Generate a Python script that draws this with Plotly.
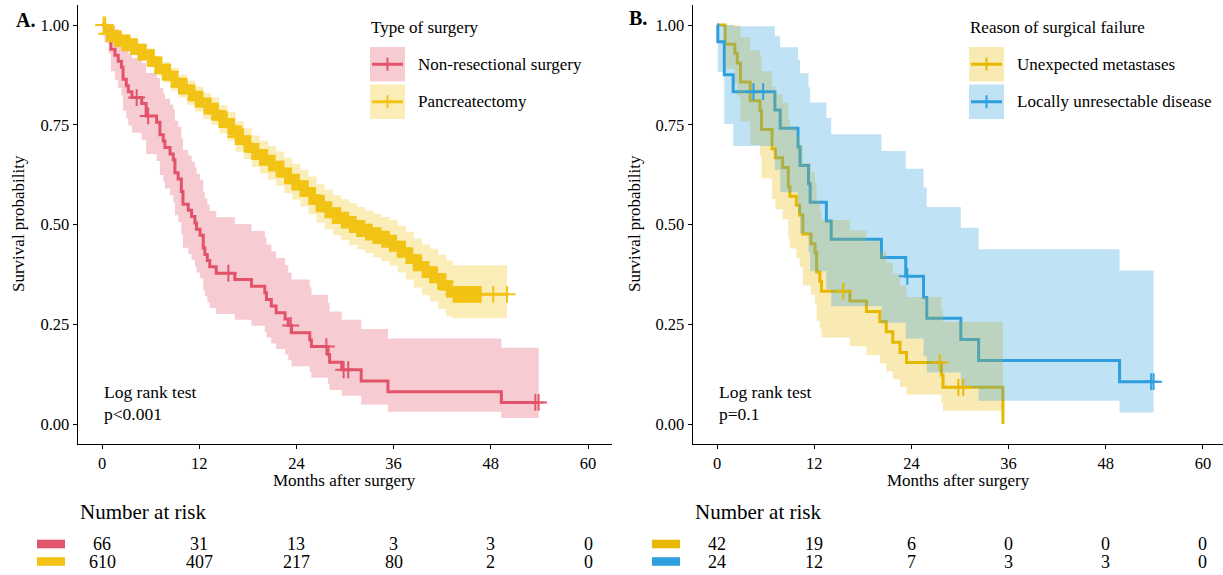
import bisect
import plotly.graph_objects as go

# ---------------- data: Panel A (type of surgery) ----------------
red_t = [0, 0.3, 0.8, 1.1, 1.6, 2.0, 2.4, 2.6, 3.0, 3.25, 3.7, 4.9, 5.45, 6.74, 7.15, 7.56, 7.77, 8.4, 8.8, 9.0,
         9.4, 9.8, 10.0, 10.65, 11.06, 11.47, 11.67, 12.1, 12.5, 12.7, 13.0, 13.3, 14.1, 16.4, 18.45, 20.1, 20.3,
         20.9, 21.5, 22.6, 23.0, 23.4, 25.65, 25.85, 27.9, 28.1, 29.6, 32.0, 35.3, 49.3]
red_s = [1.0, 0.985, 0.970, 0.939, 0.924, 0.909, 0.894, 0.864, 0.848, 0.833, 0.818, 0.803, 0.772, 0.756, 0.725,
         0.709, 0.693, 0.677, 0.662, 0.630, 0.614, 0.583, 0.551, 0.536, 0.520, 0.504, 0.488, 0.473, 0.441, 0.425,
         0.410, 0.394, 0.378, 0.362, 0.345, 0.329, 0.312, 0.296, 0.279, 0.263, 0.247, 0.229, 0.211, 0.194, 0.174,
         0.155, 0.136, 0.108, 0.081, 0.054]
red_lo = [1.0, 0.956, 0.929, 0.884, 0.863, 0.842, 0.823, 0.785, 0.766, 0.748, 0.730, 0.712, 0.677, 0.659, 0.624,
          0.607, 0.590, 0.573, 0.556, 0.523, 0.506, 0.474, 0.442, 0.426, 0.411, 0.395, 0.380, 0.365, 0.335, 0.320,
          0.305, 0.291, 0.276, 0.261, 0.246, 0.231, 0.217, 0.202, 0.188, 0.174, 0.160, 0.145, 0.130, 0.116, 0.100,
          0.085, 0.071, 0.049, 0.031, 0.015]
red_hi = [1.0, 1.0, 1.0, 0.999, 0.990, 0.981, 0.971, 0.951, 0.940, 0.928, 0.917, 0.905, 0.880, 0.868, 0.842,
          0.828, 0.815, 0.801, 0.788, 0.760, 0.745, 0.717, 0.687, 0.673, 0.658, 0.643, 0.627, 0.612, 0.581, 0.566,
          0.550, 0.534, 0.518, 0.501, 0.484, 0.468, 0.450, 0.433, 0.416, 0.398, 0.380, 0.362, 0.343, 0.324, 0.303,
          0.282, 0.261, 0.238, 0.214, 0.191]
red_cens = [4.28, 5.7, 15.6, 23.3, 27.7, 29.83, 30.4, 53.5, 53.9]
red_end = 53.9

pc_t = [0, 0.5, 1.5, 2.5, 3.5, 4.5, 5.5, 6.5, 7.5, 8.5, 9.5, 10.5, 11.5, 12.5, 13.5, 14.5, 15.5, 16.5, 17.5,
        18.5, 19.5, 20.5, 21.5, 22.5, 23.5, 24.5, 25.5, 26.5, 27.5, 28.5, 29.5, 30.5, 31.5, 32.5, 33.5, 34.5,
        35.5, 36.5, 37.5, 38.5, 39.5, 40.5, 41.5, 42.5, 43.3]
pc_s = [1.0, 0.978, 0.966, 0.955, 0.946, 0.932, 0.918, 0.898, 0.882, 0.864, 0.847, 0.830, 0.814, 0.797, 0.784,
        0.763, 0.745, 0.720, 0.702, 0.683, 0.668, 0.654, 0.639, 0.622, 0.606, 0.590, 0.572, 0.552, 0.537, 0.522,
        0.511, 0.500, 0.490, 0.481, 0.472, 0.463, 0.453, 0.438, 0.422, 0.404, 0.387, 0.374, 0.357, 0.338, 0.325]
pc_lo = [1.0, 0.966, 0.951, 0.938, 0.927, 0.911, 0.895, 0.873, 0.856, 0.836, 0.818, 0.800, 0.783, 0.764, 0.750,
         0.728, 0.709, 0.683, 0.664, 0.644, 0.628, 0.613, 0.597, 0.579, 0.562, 0.545, 0.526, 0.505, 0.489, 0.473,
         0.461, 0.449, 0.438, 0.428, 0.418, 0.408, 0.397, 0.380, 0.362, 0.342, 0.323, 0.307, 0.288, 0.270, 0.265]
pc_hi = [1.0, 0.990, 0.981, 0.972, 0.965, 0.953, 0.941, 0.923, 0.908, 0.892, 0.876, 0.861, 0.846, 0.830, 0.818,
         0.799, 0.782, 0.758, 0.741, 0.723, 0.710, 0.697, 0.683, 0.667, 0.652, 0.637, 0.620, 0.601, 0.587, 0.573,
         0.563, 0.553, 0.544, 0.535, 0.527, 0.519, 0.511, 0.497, 0.482, 0.465, 0.450, 0.439, 0.424, 0.410, 0.398]
pc_cens = [0.2, 0.6, 1.1, 1.4, 1.8, 2.1, 2.5, 2.9, 3.2, 3.6, 4.0, 4.3, 4.7, 5.1, 5.4, 5.9, 6.2, 6.6, 6.9, 7.3,
           7.7, 8.0, 8.4, 8.8, 9.1, 9.5, 9.9, 10.2, 10.7, 11.0, 11.4, 11.7, 12.1, 12.4, 12.9, 13.2, 13.6, 13.9,
           14.3, 14.7, 15.0, 15.4, 15.8, 16.1, 16.5, 16.9, 17.2, 17.6, 18.0, 18.3, 18.8, 19.1, 19.5, 19.8, 20.2,
           20.6, 20.9, 21.3, 21.8, 22.1, 22.4, 22.8, 23.2, 23.5, 23.9, 24.3, 24.7, 25.0, 25.4, 25.8, 26.1, 26.5,
           26.9, 27.2, 27.6, 28.0, 28.3, 28.7, 29.1, 29.4, 29.8, 30.2, 30.6, 30.9, 31.3, 31.7, 32.0, 32.4, 32.8,
           33.1, 33.5, 33.9, 34.2, 34.6, 35.0, 35.4, 35.7, 36.1, 36.5, 36.8, 37.2, 37.6, 37.9, 38.3, 38.7, 39.0,
           39.4, 39.8, 40.1, 40.5, 40.8, 41.2, 41.5, 41.9, 42.2, 42.6, 42.9, 43.2, 43.6, 43.9, 44.2, 44.5, 44.8,
           45.1, 45.4, 45.7, 46.0, 46.3, 46.6, 48.3, 50.0,
           0.4, 0.9, 1.25, 1.6, 1.95, 2.3, 2.7, 3.05, 3.4, 3.8, 4.15, 4.5, 4.9, 5.25, 5.65, 6.05, 6.4, 6.75, 7.1,
           7.5, 7.85, 8.2, 8.6, 8.95, 9.3, 9.7, 10.05, 10.45, 10.85, 11.2, 11.55, 11.9, 12.25, 12.65, 13.05, 13.4,
           13.75, 14.1, 14.5, 14.85, 15.2, 15.6, 15.95, 16.3, 16.7, 17.05, 17.4, 17.8, 18.15, 18.55, 18.95, 19.3,
           19.65, 20.0, 20.4, 20.75, 21.1, 21.55, 21.95, 22.25, 22.6, 23.0, 23.35, 23.7, 24.1, 24.5, 24.85, 25.2,
           25.6, 25.95, 26.3, 26.7, 27.05, 27.4, 27.8, 28.15, 28.5, 28.9, 29.25, 29.6, 30.0, 30.4, 30.75, 31.1,
           31.5, 31.85, 32.2, 32.6, 32.95, 33.3, 33.7, 34.05, 34.4, 34.8, 35.2, 35.55, 35.9, 36.3, 36.65, 37.0,
           37.4, 37.75, 38.1, 38.5, 38.85, 39.2, 39.6, 39.95, 40.3, 40.65, 41.0, 41.35, 41.7, 42.05, 42.4, 42.75,
           43.05, 43.4, 43.75, 44.05, 44.35, 44.65, 44.95, 45.25, 45.55, 45.85, 46.15, 46.45, 46.75]
pc_end = 50.2
pc_band_end = 50.0

# ---------------- data: Panel B (reason of surgical failure) ----------------
um_t = [0, 1.0, 2.2, 2.5, 2.9, 4.1, 5.3, 5.5, 6.8, 7.2, 8.1, 8.8, 9.0, 9.8, 10.2, 10.6, 11.6, 12.1, 12.3, 12.7,
        12.9, 16.4, 18.45, 20.1, 20.9, 21.7, 22.6, 23.4, 27.7, 27.9, 35.3]
um_s = [1.0, 0.952, 0.929, 0.905, 0.857, 0.810, 0.786, 0.738, 0.690, 0.667, 0.643, 0.595, 0.571, 0.548, 0.524,
        0.476, 0.452, 0.429, 0.381, 0.357, 0.333, 0.308, 0.282, 0.256, 0.231, 0.205, 0.179, 0.154, 0.123, 0.092, 0.0]
um_lo = [1.0, 0.890, 0.854, 0.820, 0.758, 0.699, 0.671, 0.616, 0.564, 0.538, 0.513, 0.464, 0.440, 0.416, 0.393,
         0.347, 0.324, 0.302, 0.259, 0.238, 0.217, 0.195, 0.173, 0.152, 0.132, 0.112, 0.093, 0.074, 0.053, 0.033]
um_hi = [1.0, 1.0, 1.0, 0.998, 0.970, 0.937, 0.920, 0.884, 0.845, 0.826, 0.805, 0.764, 0.743, 0.721, 0.699,
         0.654, 0.631, 0.608, 0.560, 0.536, 0.511, 0.485, 0.459, 0.432, 0.404, 0.376, 0.347, 0.318, 0.288, 0.256]
um_cens = [15.6, 27.5, 29.8, 30.4]
um_end = 35.3

lu_t = [0, 0.1, 0.9, 2.0, 7.15, 7.8, 10.0, 10.25, 11.3, 11.5, 13.5, 14.1, 20.3, 23.3, 25.5, 25.9, 30.1, 32.3, 49.7]
lu_s = [1.0, 0.958, 0.875, 0.833, 0.787, 0.741, 0.694, 0.648, 0.602, 0.556, 0.509, 0.463, 0.417, 0.370, 0.317,
        0.265, 0.212, 0.159, 0.106]
lu_lo = [1.0, 0.882, 0.752, 0.697, 0.637, 0.581, 0.528, 0.478, 0.429, 0.383, 0.338, 0.295, 0.254, 0.214, 0.170,
         0.129, 0.091, 0.058, 0.029]
lu_hi = [1.0, 1.0, 1.0, 0.997, 0.972, 0.944, 0.913, 0.879, 0.844, 0.806, 0.767, 0.726, 0.684, 0.640, 0.593,
         0.544, 0.492, 0.438, 0.385]
lu_cens = [4.5, 5.7, 23.5, 53.6, 53.9]
lu_end = 53.9

# ---------------- risk tables & labels ----------------
risk_times = [0, 12, 24, 36, 48, 60]
risk_A_nonres = [66, 31, 13, 3, 3, 0]
risk_A_pancr = [610, 407, 217, 80, 2, 0]
risk_B_meta = [42, 19, 6, 0, 0, 0]
risk_B_local = [24, 12, 7, 3, 3, 0]
x_ticks = [0, 12, 24, 36, 48, 60]
y_ticks = [0, 0.25, 0.5, 0.75, 1.0]
y_ticktext = ["0.00", "0.25", "0.50", "0.75", "1.00"]

RED = "#E2546B"
RED_F = "rgba(226,84,107,0.3)"
YEL_A = "#F2C314"
YEL_A_F = "rgba(242,195,20,0.3)"
YEL_B = "#E7B800"
YEL_B_F = "rgba(231,184,0,0.3)"
BLUE = "#2E9FDF"
BLUE_F = "rgba(46,159,223,0.3)"

FONT = "Liberation Serif, Times New Roman, serif"
W, H = 1223, 575


def px_x(p):
    return p / W


def px_y(p):
    return 1 - p / H


def step_line(t, s, t_end):
    xs = list(t)
    ys = list(s)
    if t_end > t[-1]:
        xs.append(t_end)
        ys.append(s[-1])
    return xs, ys


def ribbon(t, lo, hi, t_end):
    xu, yu, xl, yl = [], [], [], []
    for i in range(len(t)):
        t1 = t[i + 1] if i + 1 < len(t) else t_end
        xu += [t[i], t1]
        yu += [hi[i], hi[i]]
        xl += [t[i], t1]
        yl += [lo[i], lo[i]]
    return xu + xl[::-1], yu + yl[::-1]


def surv_at(t, s, c):
    i = bisect.bisect_right(t, c) - 1
    return s[max(i, 0)]


fig = go.Figure()


def add_group(curves, xa, ya):
    for c in curves:
        xs, ys = step_line(c["t"], c["s"], c["end"])
        fig.add_trace(go.Scatter(x=xs, y=ys, mode="lines", line=dict(color=c["color"], width=3, shape="hv"),
                                 xaxis=xa, yaxis=ya, showlegend=False, hoverinfo="skip"))
    for c in curves:
        bx, by = ribbon(c["band_t"], c["lo"], c["hi"], c["band_end"])
        fig.add_trace(go.Scatter(x=bx, y=by, mode="lines", fill="toself", fillcolor=c["fill"],
                                 line=dict(width=0, color="rgba(0,0,0,0)"), xaxis=xa, yaxis=ya,
                                 showlegend=False, hoverinfo="skip"))
    for c in curves:
        cens = sorted(c["cens"])
        cy = [surv_at(c["t"], c["s"], v) for v in cens]
        fig.add_trace(go.Scatter(x=cens, y=cy, mode="markers",
                                 marker=dict(symbol="cross-thin", size=12, color=c["color"],
                                             line=dict(width=2, color=c["color"])),
                                 xaxis=xa, yaxis=ya, showlegend=False, hoverinfo="skip"))


add_group([
    dict(t=red_t, s=red_s, lo=red_lo, hi=red_hi, end=red_end, band_t=red_t, band_end=red_end,
         cens=red_cens, color=RED, fill=RED_F),
    dict(t=pc_t, s=pc_s, lo=pc_lo, hi=pc_hi, end=pc_end, band_t=pc_t, band_end=pc_band_end,
         cens=pc_cens, color=YEL_A, fill=YEL_A_F),
], "x", "y")

add_group([
    dict(t=um_t, s=um_s, lo=um_lo, hi=um_hi, end=um_end, band_t=um_t[:-1], band_end=um_end,
         cens=um_cens, color=YEL_B, fill=YEL_B_F),
    dict(t=lu_t, s=lu_s, lo=lu_lo, hi=lu_hi, end=lu_end, band_t=lu_t, band_end=lu_end,
         cens=lu_cens, color=BLUE, fill=BLUE_F),
], "x2", "y2")

# ---------------- axes ----------------
ydom = [px_y(443.95), px_y(5.05)]
axis_common = dict(showline=True, linecolor="black", linewidth=1.2, ticks="outside", ticklen=4, tickwidth=1,
                   tickcolor="black", showgrid=False, zeroline=False,
                   tickfont=dict(family=FONT, size=16.5, color="black"))
fig.update_layout(
    xaxis=dict(domain=[px_x(77.7), px_x(612.3)], range=[-3, 63], tickvals=x_ticks, anchor="y", **axis_common),
    yaxis=dict(domain=ydom, range=[-0.05, 1.05], tickvals=y_ticks, ticktext=y_ticktext, anchor="x", **axis_common),
    xaxis2=dict(domain=[px_x(692.7), 1.0], range=[-3, 62.47], tickvals=x_ticks, anchor="y2", **axis_common),
    yaxis2=dict(domain=ydom, range=[-0.05, 1.05], tickvals=y_ticks, ticktext=y_ticktext, anchor="x2",
                **axis_common),
)

ann = []
shapes = []


def text(x, y, s, size=17, xanchor="left", yanchor="middle", xref="paper", bold=False, angle=0):
    ann.append(dict(x=x, y=y, xref=xref, yref="paper", text=("<b>%s</b>" % s) if bold else s,
                    showarrow=False, xanchor=xanchor, yanchor=yanchor, textangle=angle,
                    font=dict(family=FONT, size=size, color="black")))


# panel letters
text(px_x(14), px_y(20), "A.", size=20, bold=True)
text(px_x(627), px_y(18), "B.", size=20, bold=True)
# axis titles
text(px_x(18), px_y(224), "Survival probability", angle=-90, xanchor="center")
text(px_x(634), px_y(224), "Survival probability", angle=-90, xanchor="center")
text(px_x(345), px_y(480), "Months after surgery", xanchor="center")
text(px_x(958), px_y(480), "Months after surgery", xanchor="center")
# log rank text
text(0, px_y(392), "Log rank test", xref="x", size=17.5)
text(0, px_y(414), "p&lt;0.001", xref="x", size=17.5)
text(0, px_y(392), "Log rank test", xref="x2", size=17.5)
text(0, px_y(414), "p=0.1", xref="x2", size=17.5)


def legend(x0, title, items):
    text(px_x(x0 - 1), px_y(28), title)
    for k, (label, col, fcol) in enumerate(items):
        top = 47 + k * 37.5
        bot = top + 34.5
        cy = (top + bot) / 2
        shapes.append(dict(type="rect", xref="paper", yref="paper", x0=px_x(x0), x1=px_x(x0 + 35),
                           y0=px_y(bot), y1=px_y(top), fillcolor=fcol, line=dict(width=0), layer="above"))
        shapes.append(dict(type="line", xref="paper", yref="paper", x0=px_x(x0 + 2), x1=px_x(x0 + 33),
                           y0=px_y(cy), y1=px_y(cy), line=dict(color=col, width=3), layer="above"))
        shapes.append(dict(type="line", xref="paper", yref="paper", x0=px_x(x0 + 17.5), x1=px_x(x0 + 17.5),
                           y0=px_y(cy - 6.5), y1=px_y(cy + 6.5), line=dict(color=col, width=2), layer="above"))
        text(px_x(x0 + 46), px_y(cy), label)


legend(370, "Type of surgery", [("Non-resectional surgery", RED, RED_F), ("Pancreatectomy", YEL_A, YEL_A_F)])
legend(969, "Reason of surgical failure", [("Unexpected metastases", YEL_B, YEL_B_F),
                                           ("Locally unresectable disease", BLUE, BLUE_F)])


def risk_table(xref, x_axis_px, sw_x0, rows):
    text(px_x(x_axis_px), px_y(512), "Number at risk", size=21)
    for k, (vals, col) in enumerate(rows):
        ypx = 544 + k * 17.5
        shapes.append(dict(type="rect", xref="paper", yref="paper", x0=px_x(sw_x0), x1=px_x(sw_x0 + 28),
                           y0=px_y(ypx + 4.3), y1=px_y(ypx - 4.3), fillcolor=col, line=dict(width=0)))
        for tt, v in zip(risk_times, vals):
            text(tt, px_y(ypx), str(v), xref=xref, size=18, xanchor="center")


risk_table("x", 77.7, 37, [(risk_A_nonres, RED), (risk_A_pancr, YEL_A)])
risk_table("x2", 692.7, 652, [(risk_B_meta, YEL_B), (risk_B_local, BLUE)])

fig.update_layout(
    width=W, height=H, margin=dict(l=0, r=0, t=0, b=0), paper_bgcolor="white", plot_bgcolor="white",
    annotations=ann, shapes=shapes, showlegend=False, font=dict(family=FONT, color="black"),
)

fig.write_html("out.html", config={"displayModeBar": False},
               post_script="document.body.style.margin='0px';document.body.style.padding='0px';")
